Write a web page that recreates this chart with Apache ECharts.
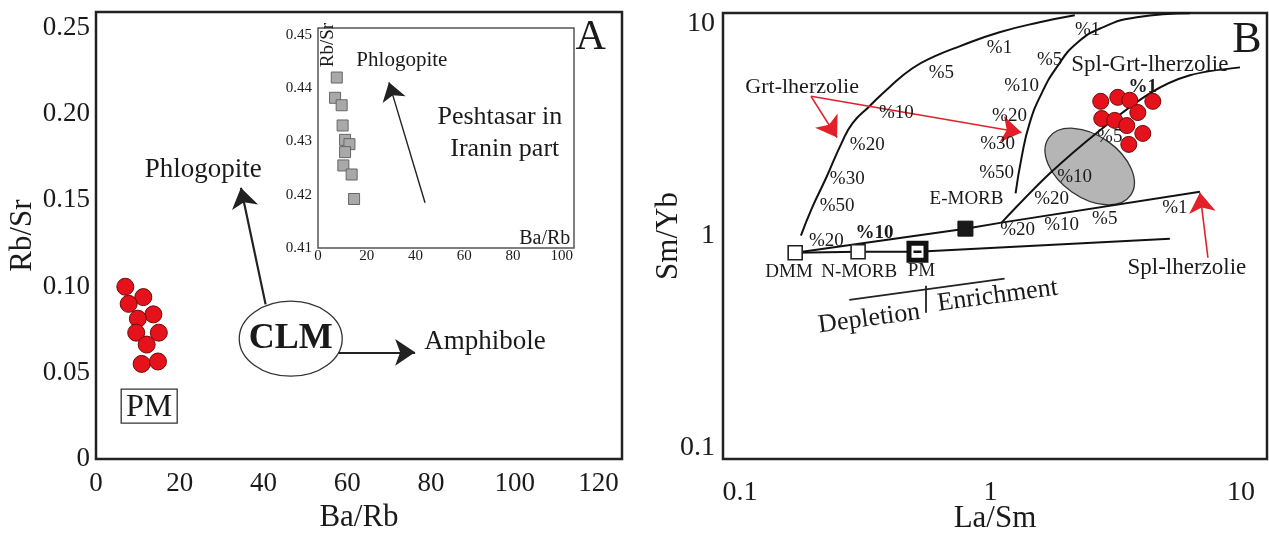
<!DOCTYPE html>
<html>
<head>
<meta charset="utf-8">
<script src="https://cdn.jsdelivr.net/npm/echarts@6/dist/echarts.min.js"></script>
<style>
  html, body { margin: 0; padding: 0; background: #fff; }
  #chart { width: 1269px; height: 539px; }
</style>
</head>
<body>
<div id="chart"></div>
<script>
var myChart = echarts.init(document.getElementById('chart'));
var FONT = '"Liberation Serif", "Times New Roman", serif';
var INK = '#1a1a1a';

// ---- panel A : Ba/Rb vs Rb/Sr ----
var aXTicks = [0, 20, 40, 60, 80, 100, 120];
var aYTicks = [0, 0.05, 0.10, 0.15, 0.20, 0.25];
var aYLabels = ['0', '0.05', '0.10', '0.15', '0.20', '0.25'];
var pmBaRb = [7.0, 11.3, 7.8, 13.7, 10.0, 9.6, 15.0, 12.1, 10.9, 14.8];
var pmRbSr = [0.0998, 0.0938, 0.0899, 0.0838, 0.0813, 0.0732, 0.0732, 0.0663, 0.0551, 0.0565];

// inset (Peshtasar, Iranian part)
var inXTicks = [0, 20, 40, 60, 80, 100];
var inYTicks = [0.41, 0.42, 0.43, 0.44, 0.45];
var inYLabels = ['0.41', '0.42', '0.43', '0.44', '0.45'];
var peshBaRb = [7.7, 7.0, 9.7, 10.1, 11.1, 12.9, 11.1, 10.4, 13.8, 14.8];
var peshRbSr = [0.4420, 0.4382, 0.4368, 0.4330, 0.4303, 0.4295, 0.4280, 0.4255, 0.4238, 0.4192];

// ---- panel B : La/Sm vs Sm/Yb (log-log) ----
var bTicks = [0.1, 1, 10];
var bLabels = ['0.1', '1', '10'];
var smpLaSm = [2.754, 3.221, 3.597, 4.446, 3.873, 2.780, 3.133, 3.499, 4.055, 3.565];
var smpSmYb = [4.29, 4.48, 4.34, 4.29, 3.80, 3.56, 3.49, 3.30, 3.03, 2.69];

var resNames = ['DMM', 'N-MORB', 'PM', 'E-MORB'];
var resLaSm = [0.166, 0.296, 0.511, 0.794];
var resSmYb = [0.831, 0.840, 0.840, 1.079];

// garnet lherzolite melting curve
var grtLaSm = [0.175, 0.194, 0.221, 0.254, 0.281, 0.328, 0.394, 0.488, 0.597, 0.752, 1.086, 1.57, 2.17];
var grtSmYb = [1.0, 1.355, 1.878, 2.72, 3.38, 4.06, 4.99, 6.14, 6.98, 7.79, 9.07, 10.11, 10.91];
// spinel-garnet lherzolite melting curve
var sgcLaSm = [1.259, 1.33, 1.432, 1.60, 1.837, 2.208, 2.805, 3.837, 6.252];
var sgcSmYb = [1.58, 2.33, 3.38, 4.68, 6.20, 8.05, 9.57, 10.67, 11.14];
// Spl-Grt-lherzolie trend
var sglLaSm = [1.107, 1.722, 2.729, 4.325, 6.252, 9.908];
var sglSmYb = [1.152, 1.96, 3.13, 4.68, 5.69, 6.20];
// spinel lherzolite melting line (DMM -> E-MORB -> ...)
var splLaSm = [0.166, 0.794, 1.107, 6.855];
var splSmYb = [0.831, 1.079, 1.152, 1.61];
// mixing line DMM -> PM -> ...
var mixLaSm = [0.166, 0.296, 0.511, 5.2];
var mixSmYb = [0.831, 0.840, 0.840, 0.968];

function pairs(xs, ys) {
    var res = [];
    for (var i = 0; i < xs.length; i++) res.push([xs[i], ys[i]]);
    return res;
}
function tickFmt(ticks, labels) {
    return function (v) {
        for (var i = 0; i < ticks.length; i++) {
            if (Math.abs(v - ticks[i]) < 1e-6 * Math.max(1, ticks[i])) return labels ? labels[i] : String(ticks[i]);
        }
        return '';
    };
}

// annotations
var notesA = [
    {v: [25.6, 0.1676], t: 'Phlogopite', s: 27},
    {v: [46.5, 0.0697], t: 'CLM', s: 36, b: true},
    {v: [78.4, 0.0676], t: 'Amphibole', s: 27, a: 'left'},
    {v: [118.1, 0.2439], t: 'A', s: 42}
];
var notesIn = [
    {v: [34.4, 0.4452], t: 'Phlogopite', s: 21},
    {v: [74.6, 0.4345], t: 'Peshtasar in', s: 26},
    {v: [76.6, 0.4286], t: 'Iranin part', s: 26},
    {v: [93.0, 0.4118], t: 'Ba/Rb', s: 20},
    {v: [4.1, 0.4481], t: 'Rb/Sr', s: 19, r: 90}
];
var notesB = [
    {v: [1.086, 7.62], t: '%1', s: 19}, {v: [0.637, 5.81], t: '%5', s: 19},
    {v: [0.421, 3.80], t: '%10', s: 19}, {v: [0.322, 2.66], t: '%20', s: 19},
    {v: [0.268, 1.858], t: '%30', s: 19}, {v: [0.244, 1.385], t: '%50', s: 19},
    {v: [2.443, 9.27], t: '%1', s: 19}, {v: [1.722, 6.69], t: '%5', s: 19},
    {v: [1.33, 5.05], t: '%10', s: 19}, {v: [1.191, 3.64], t: '%20', s: 19},
    {v: [1.067, 2.69], t: '%30', s: 19}, {v: [1.057, 1.98], t: '%50', s: 19},
    {v: [4.055, 4.99], t: '%1', s: 19, b: true}, {v: [2.992, 2.90], t: '%5', s: 19},
    {v: [2.168, 1.88], t: '%10', s: 19}, {v: [1.754, 1.48], t: '%20', s: 19},
    {v: [0.221, 0.947], t: '%20', s: 19}, {v: [0.344, 1.033], t: '%10', s: 19, b: true},
    {v: [1.282, 1.067], t: '%20', s: 19}, {v: [1.923, 1.127], t: '%10', s: 19},
    {v: [2.858, 1.202], t: '%5', s: 19}, {v: [5.445, 1.355], t: '%1', s: 19},
    {v: [0.177, 4.99], t: 'Grt-lherzolie', s: 22},
    {v: [4.325, 6.34], t: 'Spl-Grt-lherzolie', s: 23},
    {v: [6.081, 0.706], t: 'Spl-lherzolie', s: 23},
    {v: [0.157, 0.676], t: 'DMM', s: 19},
    {v: [0.299, 0.676], t: 'N-MORB', s: 19},
    {v: [0.530, 0.684], t: 'PM', s: 19},
    {v: [0.802, 1.48], t: 'E-MORB', s: 19},
    {v: [0.328, 0.406], t: 'Depletion', s: 26, r: 7.7},
    {v: [1.067, 0.521], t: 'Enrichment', s: 26, r: 7.7},
    {v: [10.57, 8.31], t: 'B', s: 44}
];

function noteSeries(xi, yi, notes) {
    return {
        type: 'custom', xAxisIndex: xi, yAxisIndex: yi, clip: false, silent: true, z: 6,
        data: notes.map(function (n) { return n.v; }),
        renderItem: function (params, api) {
            var n = notes[params.dataIndex];
            var p = api.coord(n.v);
            return {
                type: 'text', x: p[0], y: p[1], rotation: (n.r || 0) * Math.PI / 180,
                style: {
                    text: n.t, font: (n.b ? 'bold ' : '') + n.s + 'px ' + FONT,
                    fill: INK, align: n.a || 'center', verticalAlign: 'middle'
                }
            };
        }
    };
}
function ellipseSeries(xi, yi, center, rx, ry, rot, fill) {
    return {
        type: 'custom', xAxisIndex: xi, yAxisIndex: yi, clip: false, silent: true, z: 3,
        data: [center],
        renderItem: function (params, api) {
            var p = api.coord(center);
            return {
                type: 'ellipse', x: p[0], y: p[1], rotation: rot * Math.PI / 180,
                shape: {cx: 0, cy: 0, rx: rx, ry: ry},
                style: {fill: fill, stroke: '#333', lineWidth: 1.3}
            };
        }
    };
}
function curve(xs, ys, smooth) {
    return {
        type: 'line', xAxisIndex: 1, yAxisIndex: 1, data: pairs(xs, ys), smooth: smooth,
        showSymbol: false, silent: true, z: 4,
        lineStyle: {color: '#111', width: 2}
    };
}
function arrows(xi, yi, segs, color, size, width) {
    return {
        type: 'lines', coordinateSystem: 'cartesian2d', xAxisIndex: xi, yAxisIndex: yi,
        symbol: ['none', 'arrow'], symbolSize: size, silent: true, z: 5,
        lineStyle: {color: color, width: width, opacity: 1},
        data: segs.map(function (s) { return {coords: s}; })
    };
}

function valAxis(gi, min, max, interval, fmt, fs, margin, name, gap) {
    return {
        gridIndex: gi, type: 'value', min: min, max: max, interval: interval,
        axisLine: {show: false}, axisTick: {show: false}, splitLine: {show: false},
        axisLabel: {formatter: fmt, fontSize: fs, margin: margin, fontFamily: FONT, color: INK},
        name: name, nameLocation: 'middle', nameGap: gap, nameMoveOverlap: false,
        nameTextStyle: {fontSize: 31, fontFamily: FONT, color: INK}
    };
}
function logAxis(gi, min, max, fs, margin, name, gap) {
    return {
        gridIndex: gi, type: 'log', logBase: 10, min: min, max: max,
        axisLine: {show: false}, axisTick: {show: false}, splitLine: {show: false},
        minorTick: {show: false}, minorSplitLine: {show: false},
        axisLabel: {formatter: tickFmt(bTicks, bLabels), fontSize: fs, margin: margin, fontFamily: FONT, color: INK},
        name: name, nameLocation: 'middle', nameGap: gap, nameMoveOverlap: false,
        nameTextStyle: {fontSize: 31, fontFamily: FONT, color: INK}
    };
}

option = {
    backgroundColor: '#fff',
    animation: false,
    grid: [
        {left: 96, right: 647, top: 12, bottom: 80, show: true, borderColor: '#222', borderWidth: 2.5,
         backgroundColor: 'transparent', outerBoundsMode: 'none', containLabel: false},
        {left: 723, right: 2, top: 13, bottom: 80, show: true, borderColor: '#222', borderWidth: 2.5,
         backgroundColor: 'transparent', outerBoundsMode: 'none', containLabel: false},
        {left: 318, top: 28, width: 256, height: 220, show: true, borderColor: '#555', borderWidth: 1.5,
         backgroundColor: 'transparent', outerBoundsMode: 'none', containLabel: false}
    ],
    xAxis: [
        valAxis(0, 0, 125.6, 20, tickFmt(aXTicks), 27, 11, 'Ba/Rb', 43),
        logAxis(1, 0.0855, 12.7, 28, 20, 'La/Sm', 44),
        valAxis(2, 0, 105, 20, tickFmt(inXTicks), 15, 1, '', 0)
    ],
    yAxis: [
        valAxis(0, 0, 0.259, 0.05, tickFmt(aYTicks, aYLabels), 27, 6, 'Rb/Sr', 58),
        logAxis(1, 0.0888, 11.18, 28, 8, 'Sm/Yb', 39),
        valAxis(2, 0.41, 0.4513, 0.01, tickFmt(inYTicks, inYLabels), 15, 6, '', 0)
    ],
    series: [
        // panel A
        ellipseSeries(0, 0, [46.5, 0.0697], 51.5, 37.5, 0, '#fff'),
        arrows(0, 0, [
            [[40.5, 0.0896], [34.6, 0.1572]],
            [[57.9, 0.0618], [76.2, 0.0618]]
        ], '#222', [12, 20], 2.2),
        {
            type: 'scatter', xAxisIndex: 0, yAxisIndex: 0, data: pairs(pmBaRb, pmRbSr),
            symbol: 'circle', symbolSize: 17, silent: true, z: 4,
            itemStyle: {color: '#e5121b', borderColor: '#6d0a0a', borderWidth: 1, opacity: 1}
        },
        {
            type: 'custom', xAxisIndex: 0, yAxisIndex: 0, clip: false, silent: true, z: 6,
            data: [[12.7, 0.0306]],
            renderItem: function (params, api) {
                var p = api.coord([api.value(0), api.value(1)]);
                return {
                    type: 'group', children: [
                        {type: 'rect', shape: {x: p[0] - 28, y: p[1] - 17, width: 56, height: 34},
                         style: {fill: 'none', stroke: '#333', lineWidth: 1.3}},
                        {type: 'text', x: p[0], y: p[1] + 1,
                         style: {text: 'PM', font: '32px ' + FONT, fill: INK, align: 'center', verticalAlign: 'middle'}}
                    ]
                };
            }
        },
        noteSeries(0, 0, notesA),
        // inset
        arrows(2, 2, [[[43.9, 0.4185], [29.1, 0.4411]]], '#222', [10, 18], 1.4),
        {
            type: 'scatter', xAxisIndex: 2, yAxisIndex: 2, data: pairs(peshBaRb, peshRbSr),
            symbol: 'rect', symbolSize: 11, silent: true, z: 4,
            itemStyle: {color: '#a9a9a9', borderColor: '#666', borderWidth: 1, opacity: 1}
        },
        noteSeries(2, 2, notesIn),
        // panel B
        ellipseSeries(1, 1, [2.489, 2.116], 50, 31, -35, '#b5b5b5'),
        curve(grtLaSm, grtSmYb, true),
        curve(sgcLaSm, sgcSmYb, true),
        curve(sglLaSm, sglSmYb, 0.3),
        curve(splLaSm, splSmYb, false),
        curve(mixLaSm, mixSmYb, false),
        arrows(1, 1, [
            [[0.273, 0.499], [1.138, 0.627]],
            [[0.550, 0.581], [0.550, 0.434]]
        ], '#222', 0, 1.8),
        arrows(1, 1, [
            [[0.192, 4.53], [0.244, 2.90]],
            [[0.192, 4.53], [1.33, 3.06]],
            [[7.38, 0.787], [6.855, 1.596]]
        ], '#e3202a', [12, 20], 1.6),
        {
            type: 'scatter', xAxisIndex: 1, yAxisIndex: 1, data: pairs(smpLaSm, smpSmYb),
            symbol: 'circle', symbolSize: 16, silent: true, z: 4,
            itemStyle: {color: '#e5121b', borderColor: '#6d0a0a', borderWidth: 1, opacity: 1}
        },
        {
            type: 'scatter', xAxisIndex: 1, yAxisIndex: 1, silent: true, z: 5,
            data: pairs(resLaSm, resSmYb).map(function (p, i) {
                var st = [
                    {symbolSize: 14, itemStyle: {color: '#fff', borderColor: '#222', borderWidth: 1.6, opacity: 1}},
                    {symbolSize: 14, itemStyle: {color: '#fff', borderColor: '#222', borderWidth: 1.6, opacity: 1}},
                    {symbolSize: 17, itemStyle: {color: '#fff', borderColor: '#111', borderWidth: 5, opacity: 1}},
                    {symbolSize: 15, itemStyle: {color: '#1a1a1a', borderColor: '#111', borderWidth: 1, opacity: 1}}
                ][i];
                return {name: resNames[i], value: p, symbolSize: st.symbolSize, itemStyle: st.itemStyle};
            }),
            symbol: 'rect'
        },
        {
            type: 'scatter', xAxisIndex: 1, yAxisIndex: 1, silent: true, z: 6,
            data: [[resLaSm[2], resSmYb[2]]], symbol: 'rect', symbolSize: [8, 2.5],
            itemStyle: {color: '#111', opacity: 1}
        },
        noteSeries(1, 1, notesB)
    ]
};

myChart.setOption(option);
</script>
</body>
</html>
